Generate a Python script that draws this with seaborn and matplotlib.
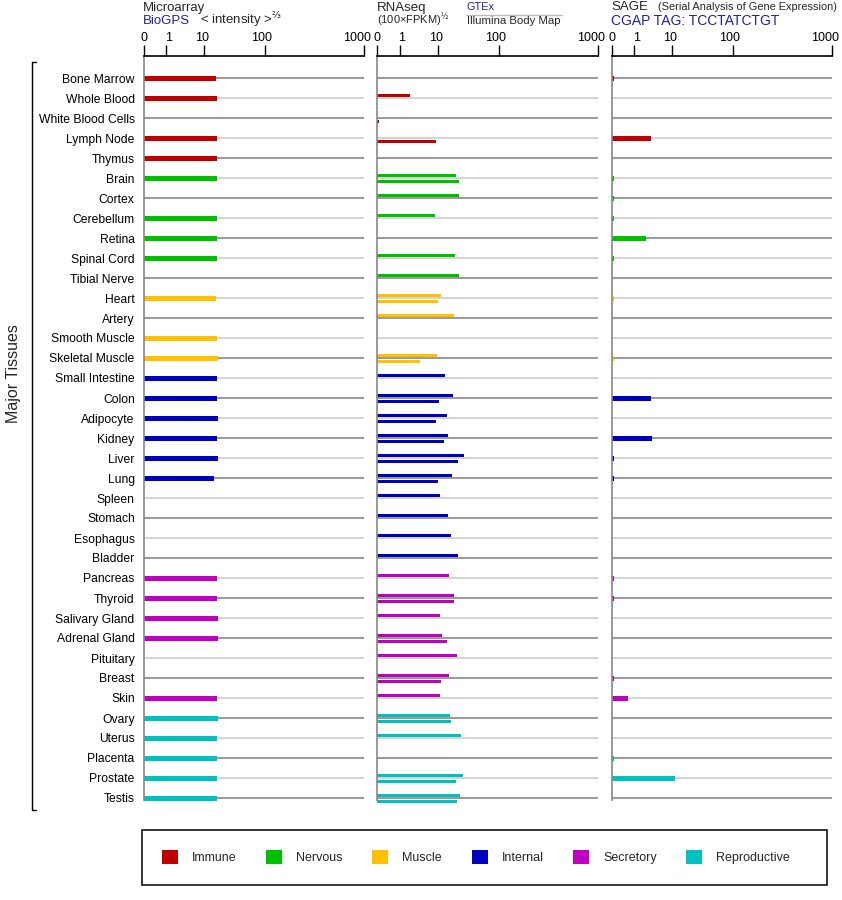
import numpy as np
import pandas as pd
import seaborn as sns
import matplotlib
matplotlib.use("Agg")
import matplotlib.pyplot as plt
from matplotlib.patches import Patch, Rectangle
from matplotlib.lines import Line2D
from matplotlib.transforms import ScaledTranslation

# ---- data ----
tissues = ["Bone Marrow", "Whole Blood", "White Blood Cells", "Lymph Node", "Thymus",
           "Brain", "Cortex", "Cerebellum", "Retina", "Spinal Cord", "Tibial Nerve",
           "Heart", "Artery", "Smooth Muscle", "Skeletal Muscle",
           "Small Intestine", "Colon", "Adipocyte", "Kidney", "Liver", "Lung", "Spleen",
           "Stomach", "Esophagus", "Bladder",
           "Pancreas", "Thyroid", "Salivary Gland", "Adrenal Gland", "Pituitary", "Breast", "Skin",
           "Ovary", "Uterus", "Placenta", "Prostate", "Testis"]
systems = ["Immune"] * 5 + ["Nervous"] * 6 + ["Muscle"] * 4 + ["Internal"] * 10 \
    + ["Secretory"] * 7 + ["Reproductive"] * 5
system_order = ["Immune", "Nervous", "Muscle", "Internal", "Secretory", "Reproductive"]
system_colors = ["#c00000", "#00c000", "#ffc000", "#0000c0", "#c000c0", "#00c0c0"]

N = None
microarray = [15.5, 16.0, N, 16.0, 16.0,
              16.0, N, 16.0, 16.0, 16.0, N,
              15.5, N, 16.0, 16.6,
              16.0, 16.0, 16.6, 16.0, 16.6, 14.3, N, N, N, N,
              16.0, 16.0, 16.6, 16.6, N, N, 16.0,
              16.6, 16.0, 16.0, 16.0, 16.0]
gtex = [N, 1.8, N, N, N,
        19.7, 22.0, 8.3, N, 19.0, 22.0,
        11.2, 18.0, N, 9.4,
        13.0, 17.6, 14.0, 14.6, 26.6, 17.0, 10.8, 14.6, 16.3, 21.2,
        15.1, 18.0, 10.8, 11.6, 20.5, 15.1, 10.8,
        15.7, 23.8, N, 25.7, 22.9]
illumina = [N, N, 0.075, 8.9, N,
            22.0, N, N, N, N, N,
            10.0, N, N, 3.35,
            N, 10.4, 8.9, 12.5, 21.2, 10.0, N, N, N, N,
            N, 18.0, N, 14.0, N, 11.2, N,
            16.3, N, N, 19.7, 20.5]
sage = [0.08, N, N, 2.7, N,
        0.08, 0.08, 0.08, 2.0, 0.08, N,
        0.08, N, N, 0.08,
        N, 2.7, N, 2.9, 0.08, 0.08, N, N, N, N,
        0.08, 0.08, N, N, N, 0.08, 0.72,
        N, N, 0.08, 10.9, N]
tick_values = [0, 1, 10, 100, 1000]
tick_labels = ["0", "1", "10", "100", "1000"]

# axis scale: tick positions as fraction of the axis width
KNOT_U = [0, 1, 2, 3, 4]
KNOT_P = [0, 0.103, 0.275, 0.552, 1.0]


def fwd(v):
    v = np.asarray(v, dtype=float)
    u = np.where(v < 1, v, 1 + np.log10(np.maximum(v, 1)))
    p = np.interp(u, KNOT_U, KNOT_P)
    p = np.where(u < 0, u * 0.103, p)
    p = np.where(u > 4, 1 + (u - 4) * 0.448, p)
    return p


def inv(p):
    p = np.asarray(p, dtype=float)
    u = np.interp(p, KNOT_P, KNOT_U)
    u = np.where(p < 0, p / 0.103, u)
    u = np.where(p > 1, 4 + (p - 1) / 0.448, u)
    return np.where(u < 1, u, 10 ** np.clip(u - 1, -10, 10))


rows = np.arange(len(tissues))


def frame(values, offset=0.0):
    df = pd.DataFrame({"pos": rows + offset, "value": values, "system": systems})
    return df.dropna(subset=["value"])


sns.set_theme(style="white")
plt.rcParams["font.family"] = ["Liberation Sans", "DejaVu Sans"]

W, H = 842, 900
fig = plt.figure(figsize=(W / 100, H / 100), dpi=100)


def fx(x):
    return x / W


def fy(y):
    return 1 - y / H


top_px, bot_px = 56, 800
panels = [(143.7, 220.0), (377.3, 220.7), (611.7, 220.3)]
axes = [fig.add_axes([fx(l), fy(bot_px), w / W, (bot_px - top_px) / H]) for l, w in panels]

bar_sets = [
    [(frame(microarray), 0.25)],
    [(frame(gtex, -0.135), 0.15), (frame(illumina, 0.165), 0.15)],
    [(frame(sage), 0.25)],
]

label_shift = [0, 2, -2, -4, -7]
for i, ax in enumerate(axes):
    ax.hlines(rows, 0, 1000,
              colors=["#888888" if r % 2 == 0 else "#cccccc" for r in rows],
              lw=1.2, zorder=0.5)
    for df, width in bar_sets[i]:
        sns.barplot(data=df, x="value", y="pos", hue="system", hue_order=system_order,
                    palette=system_colors, orient="h", native_scale=True, dodge=False,
                    width=width, errorbar=None, saturation=1, linewidth=0,
                    legend=False, ax=ax)
    for p in ax.patches:
        p.set_clip_on(False)
    ax.set_xscale("function", functions=(fwd, inv))
    ax.set_xlim(0, 1000)
    ax.set_ylim(rows[-1] + 0.1, -1.1)
    ax.set_xlabel("")
    ax.set_ylabel("")
    ax.set_xticks(tick_values)
    ax.set_xticklabels(tick_labels)
    ax.xaxis.set_ticks_position("top")
    ax.tick_params(axis="x", top=True, labeltop=True, bottom=False, labelbottom=False,
                   direction="out", length=8, width=1, color="black", labelsize=9,
                   pad=0.8, labelcolor="black")
    for lab, dx in zip(ax.get_xticklabels(), label_shift):
        lab.set_transform(lab.get_transform() + ScaledTranslation(dx / 100, 0, fig.dpi_scale_trans))
    for s in ["right", "bottom"]:
        ax.spines[s].set_visible(False)
    ax.spines["top"].set_color("black")
    ax.spines["top"].set_linewidth(1.2)
    ax.spines["left"].set_color("#888888")
    ax.spines["left"].set_linewidth(1.2)
    ax.set_facecolor("none")
    if i == 0:
        ax.set_yticks(rows)
        ax.set_yticklabels(tissues, fontsize=8.7)
        ax.tick_params(axis="y", left=False, length=0, pad=6.5, labelcolor="black")
    else:
        ax.set_yticks([])

# ---- headers ----
blue = "#2020a8"
fig.text(fx(143), fy(7.5), "Microarray", fontsize=9.5, va="center")
fig.text(fx(143), fy(20.5), "BioGPS", fontsize=9.5, color=blue, va="center")
fig.text(fx(200), fy(20.5), "< intensity >$^{⅔}$", fontsize=9.5, va="center")

fig.text(fx(377), fy(20.5), "(100×FPKM)$^{½}$", fontsize=8, va="center")
fig.text(fx(377), fy(7.5), "RNAseq", fontsize=9.5, va="center")
fig.text(fx(467), fy(7.5), "GTEx", fontsize=7.8, color=blue, va="center")
fig.add_artist(Line2D([fx(466), fx(562)], [fy(14.5), fy(14.5)], color="#bbbbbb", lw=1))
fig.text(fx(467), fy(21.5), "Illumina Body Map", fontsize=8.2, va="center")

fig.text(fx(611), fy(7.5), "SAGE", fontsize=9.5, va="center")
fig.text(fx(658), fy(7.5), "(Serial Analysis of Gene Expression)", fontsize=7.9, va="center")
fig.text(fx(611), fy(21), "CGAP TAG: TCCTATCTGT", fontsize=10, color=blue, va="center")

# ---- left bracket ----
fig.add_artist(Line2D([fx(36), fx(32), fx(32), fx(36)],
                      [fy(62), fy(62), fy(810), fy(810)], color="black", lw=1))
fig.text(fx(14), fy(374), "Major Tissues", fontsize=11.5, rotation=90,
         ha="center", va="center")

# ---- legend ----
handles = [Patch(facecolor=c, edgecolor="none") for c in system_colors]
fig.legend(handles, system_order, ncol=6, loc="upper left",
           bbox_to_anchor=(fx(142.3), fy(830.3)), frameon=False, fontsize=9,
           handlelength=1.28, handleheight=1.28, handletextpad=1.12,
           columnspacing=2.36, borderpad=1.6, borderaxespad=0)
fig.add_artist(Rectangle((fx(142.3), fy(885.3)), (826.7 - 142.3) / W, 55 / H,
                         transform=fig.transFigure, fill=False, edgecolor="black", lw=1.1))

fig.savefig("out.png", dpi=100)
